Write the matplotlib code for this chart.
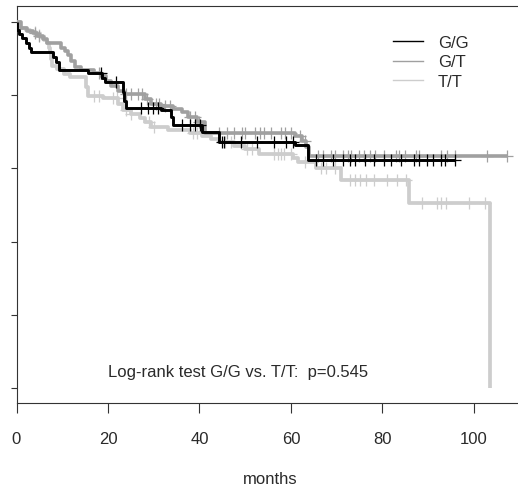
import numpy as np
import matplotlib
matplotlib.use("Agg")
import matplotlib.pyplot as plt
from matplotlib.lines import Line2D

plt.rcParams['font.family'] = ['Liberation Sans', 'DejaVu Sans']

# ---------------- data ----------------
groups = ["G/G", "G/T", "T/T"]
colors = ["#000000", "#a0a0a0", "#cdcdcd"]

gg_event_t = [0.2, 0.6, 1.3, 2.0, 2.8, 3.2, 7.9, 8.6, 9.3, 15.6, 18.6, 19.3, 23.2, 23.6, 24.0,
              31.5, 33.8, 34.3, 40.5, 44.2, 61.0, 63.7]
gg_event_s = [0.978, 0.967, 0.956, 0.944, 0.930, 0.917, 0.905, 0.890, 0.870, 0.860, 0.848, 0.835,
              0.810, 0.785, 0.765, 0.760, 0.740, 0.720, 0.700, 0.671, 0.664, 0.624]
gg_cens_t = [18.4, 21.8, 27.3, 28.8, 29.9, 31.0, 36.1, 37.9, 39.0, 40.1, 45.0, 45.3, 49.0, 52.7,
             56.4, 59.0, 60.4, 65.5, 67.0, 69.3, 71.5, 73.0, 74.0, 76.2, 78.1, 80.3, 82.0, 84.0,
             86.9, 88.0, 89.8, 91.0, 92.9, 93.6, 95.8]
gg_end = 95.8

gt_event_t = [1.0, 2.2, 3.5, 4.5, 5.8, 6.7, 9.8, 10.5, 11.2, 12.0, 12.8, 14.0, 17.0, 18.4, 19.5,
              20.7, 22.1, 23.6, 28.0, 29.5, 31.7, 34.3, 36.1, 37.6, 39.5, 41.2, 61.0, 62.5, 63.3, 64.0]
gt_event_s = [0.985, 0.976, 0.970, 0.963, 0.955, 0.944, 0.930, 0.920, 0.910, 0.895, 0.878, 0.869,
              0.861, 0.853, 0.840, 0.826, 0.812, 0.803, 0.790, 0.776, 0.771, 0.762, 0.753, 0.740,
              0.728, 0.696, 0.688, 0.675, 0.660, 0.635]
gt_cens_t = [4.0, 5.0, 18.0, 24.0, 25.0, 26.5, 27.5, 28.5, 30.5, 31.2, 32.5, 33.5, 38.0, 39.0,
             40.0, 44.2, 46.0, 47.5, 49.4, 50.0, 52.2, 53.3, 54.2, 55.6, 57.8, 58.7, 60.0, 62.0,
             63.0, 65.9, 67.1, 68.8, 69.7, 71.5, 72.6, 73.2, 74.8, 75.9, 77.4, 78.5, 80.3, 82.9,
             83.6, 85.0, 87.4, 88.0, 92.9, 94.2, 95.8, 102.8, 107.2]
gt_end = 107.2

tt_event_t = [0.8, 2.0, 3.0, 4.2, 5.2, 6.0, 6.7, 7.1, 7.4, 7.6, 7.8, 8.9, 10.3, 11.8, 15.1, 15.7,
              19.0, 22.3, 23.3, 25.0, 27.0, 28.0, 29.5, 33.2, 38.0, 40.5, 42.5, 44.2, 47.5, 50.0,
              53.0, 60.5, 61.5, 65.5, 71.0, 85.8, 103.5]
tt_event_s = [0.985, 0.978, 0.972, 0.965, 0.958, 0.950, 0.944, 0.930, 0.917, 0.900, 0.881, 0.872,
              0.858, 0.849, 0.822, 0.799, 0.793, 0.775, 0.760, 0.750, 0.738, 0.726, 0.712, 0.706,
              0.698, 0.689, 0.680, 0.671, 0.662, 0.653, 0.640, 0.628, 0.617, 0.600, 0.568, 0.505,
              0.0]
tt_cens_t = [4.0, 5.0, 17.0, 18.0, 21.0, 22.0, 24.0, 25.0, 29.0, 30.0, 38.5, 39.5, 45.5, 47.0,
             50.5, 51.6, 56.4, 57.1, 57.8, 58.6, 60.0, 63.0, 66.6, 67.7, 69.7, 73.0, 74.1, 75.2,
             76.5, 78.1, 81.0, 83.2, 85.2, 88.7, 92.0, 92.9, 94.0, 99.0, 102.4]
tt_end = 103.5

x_ticks = [0, 20, 40, 60, 80, 100]
y_ticks = [0.0, 0.2, 0.4, 0.6, 0.8, 1.0]
annotation = "Log-rank test G/G vs. T/T:  p=0.545"
x_label = "months"

# ---------------- plot ----------------
W, H = 518, 489
fig = plt.figure(figsize=(W / 100, H / 100), dpi=100)
ax = fig.add_axes([16.5 / W, (H - 404) / H, 1 - 16.5 / W + 0.01, (404 - 7) / H])


def surv_at(ev_t, ev_s, t):
    idx = np.searchsorted(np.asarray(ev_t), np.asarray(t), side='right') - 1
    s = np.where(idx < 0, 1.0, np.asarray(ev_s)[np.clip(idx, 0, None)])
    return s


series = [
    (gg_event_t, gg_event_s, gg_cens_t, gg_end),
    (gt_event_t, gt_event_s, gt_cens_t, gt_end),
    (tt_event_t, tt_event_s, tt_cens_t, tt_end),
]
lws = [2.1, 2.6, 2.7]
zorders = [5, 4, 3]

for (et, es, ct, tend), col, lw, zo in zip(series, colors, lws, zorders):
    t = np.concatenate([[0.0], et, [tend]])
    s = np.concatenate([[1.0], es, [es[-1]]])
    ax.step(t, s, where='post', color=col, lw=lw, zorder=zo, solid_capstyle='butt')
    cy = surv_at(et, es, ct)
    ax.plot(ct, cy, linestyle='none', marker='+', markersize=8, markeredgewidth=0.9,
            color=col, zorder=zo)

ax.set_xlim(0, 110.8)
ax.set_ylim(-0.041, 1.044)
ax.set_xticks(x_ticks)
ax.set_xticklabels([str(v) for v in x_ticks], fontsize=12)
ax.set_yticks(y_ticks)
ax.set_yticklabels([])
ax.tick_params(axis='x', direction='out', length=7, width=0.8, pad=13, colors='#333333',
               labelcolor='#2a2a2a')
ax.tick_params(axis='y', direction='out', length=4.3, width=0.8, colors='#333333')
for side in ['left', 'bottom', 'top']:
    ax.spines[side].set_linewidth(0.8)
    ax.spines[side].set_color('#333333')
ax.spines['right'].set_visible(False)

ax.set_xlabel(x_label, fontsize=12, labelpad=18, color='#2a2a2a')

ax.text(20.0, 0.046, annotation, fontsize=12, ha='left', va='center', color='#2a2a2a')

handles = [Line2D([0], [0], color=c, lw=1.0) for c in colors]
leg = ax.legend(handles, groups, loc='upper left',
                bbox_to_anchor=((393 - 16.5) / (518 - 16.5) * 0.99, (404 - 36) / 397),
                frameon=False, fontsize=12, handlelength=1.8, handletextpad=0.9,
                labelspacing=0.26, borderaxespad=0, borderpad=0)
for txt in leg.get_texts():
    txt.set_color('#2a2a2a')

fig.savefig("out.png", dpi=100)
